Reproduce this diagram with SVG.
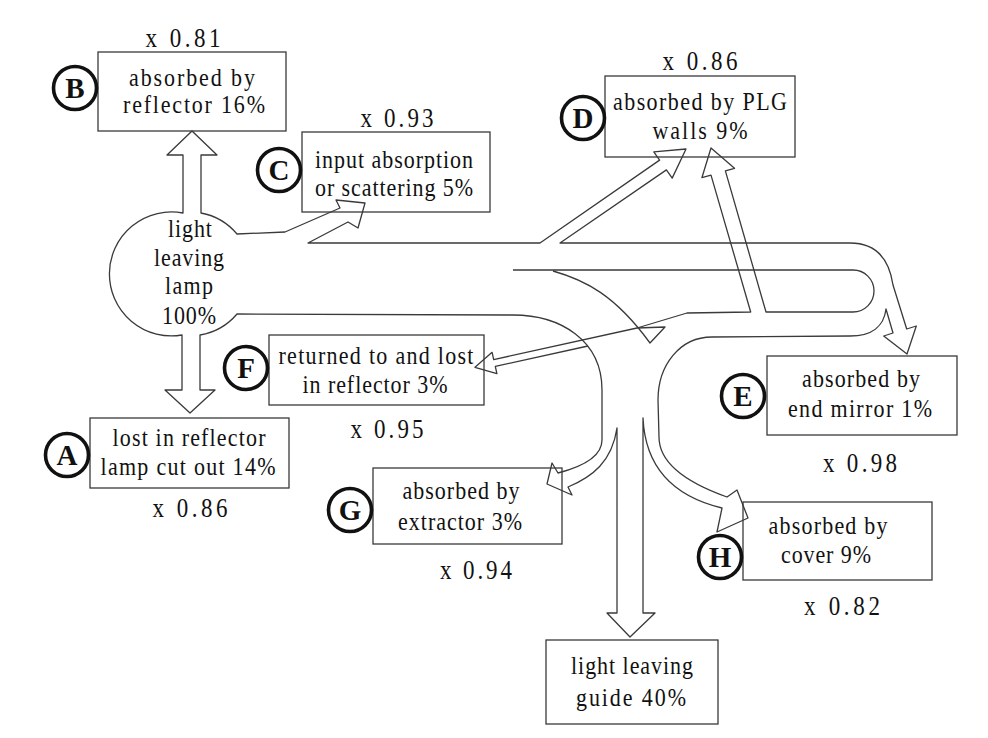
<svg xmlns="http://www.w3.org/2000/svg" width="988" height="738" viewBox="0 0 988 738">
<style>
.bx{fill:#fff;stroke:#3a3a3a;stroke-width:1.3}
.ln{fill:none;stroke:#3a3a3a;stroke-width:1.3;stroke-linejoin:round}
.cr{fill:#fff;stroke:#111;stroke-width:3.6}
.t{font-family:"Liberation Serif","Times New Roman",serif;font-size:22px;fill:#111;text-anchor:middle}
.m{font-family:"Liberation Serif","Times New Roman",serif;font-size:23px;fill:#111;text-anchor:middle}
.L{font-family:"Liberation Serif","Times New Roman",serif;font-size:29px;font-weight:bold;fill:#111;text-anchor:middle}
</style>
<rect width="988" height="738" fill="#fff"/>
<g id="node-B">
<rect class="bx" x="98" y="52" width="188" height="79"/>
<text class="t" transform="translate(192,86) scale(1,1.13)" textLength="126" lengthAdjust="spacing">absorbed by</text>
<text class="t" transform="translate(194,113) scale(1,1.13)" textLength="142" lengthAdjust="spacing">reflector 16%</text>
<text class="m" transform="translate(183,47) scale(1,1.22)" textLength="75" lengthAdjust="spacing">x 0.81</text>
<circle class="cr" cx="75" cy="88" r="21.5"/><text class="L" x="75" y="98">B</text>
</g>
<g id="node-C">
<rect class="bx" x="302" y="132" width="188" height="80"/>
<text class="t" transform="translate(394,168) scale(1,1.13)" textLength="158" lengthAdjust="spacing">input absorption</text>
<text class="t" transform="translate(394,196) scale(1,1.13)" textLength="158" lengthAdjust="spacing">or scattering 5%</text>
<text class="m" transform="translate(397,127) scale(1,1.22)" textLength="73" lengthAdjust="spacing">x 0.93</text>
<circle class="cr" cx="279" cy="170" r="21.5"/><text class="L" x="279" y="180">C</text>
</g>
<g id="node-D">
<rect class="bx" x="605" y="76" width="190" height="81"/>
<text class="t" transform="translate(700,110) scale(1,1.13)" textLength="174" lengthAdjust="spacing">absorbed by PLG</text>
<text class="t" transform="translate(700,139) scale(1,1.13)" textLength="95" lengthAdjust="spacing">walls  9%</text>
<text class="m" transform="translate(700,70) scale(1,1.22)" textLength="75" lengthAdjust="spacing">x 0.86</text>
<circle class="cr" cx="583" cy="118" r="21.5"/><text class="L" x="583" y="128">D</text>
</g>
<g id="node-A">
<rect class="bx" x="90" y="418" width="199" height="70"/>
<text class="t" transform="translate(189,446) scale(1,1.13)" textLength="153" lengthAdjust="spacing">lost in reflector</text>
<text class="t" transform="translate(188,475) scale(1,1.13)" textLength="175" lengthAdjust="spacing">lamp cut out 14%</text>
<text class="m" transform="translate(190,517) scale(1,1.22)" textLength="75" lengthAdjust="spacing">x 0.86</text>
<circle class="cr" cx="67" cy="455" r="21.5"/><text class="L" x="67" y="465">A</text>
</g>
<g id="node-F">
<rect class="bx" x="269" y="335" width="215" height="70"/>
<text class="t" transform="translate(376,364) scale(1,1.13)" textLength="195" lengthAdjust="spacing">returned to and lost</text>
<text class="t" transform="translate(375,393) scale(1,1.13)" textLength="145" lengthAdjust="spacing">in reflector 3%</text>
<text class="m" transform="translate(387,438) scale(1,1.22)" textLength="73" lengthAdjust="spacing">x 0.95</text>
<circle class="cr" cx="246" cy="368" r="21.5"/><text class="L" x="246" y="378">F</text>
</g>
<g id="node-G">
<rect class="bx" x="373" y="468" width="189" height="76"/>
<text class="t" transform="translate(461,499) scale(1,1.13)" textLength="117" lengthAdjust="spacing">absorbed by</text>
<text class="t" transform="translate(460,530) scale(1,1.13)" textLength="124" lengthAdjust="spacing">extractor 3%</text>
<text class="m" transform="translate(476,579) scale(1,1.22)" textLength="72" lengthAdjust="spacing">x 0.94</text>
<circle class="cr" cx="350" cy="510" r="21.5"/><text class="L" x="350" y="520">G</text>
</g>
<g id="node-E">
<rect class="bx" x="767" y="356" width="190" height="79"/>
<text class="t" transform="translate(861,387) scale(1,1.13)" textLength="118" lengthAdjust="spacing">absorbed by</text>
<text class="t" transform="translate(860,417) scale(1,1.13)" textLength="144" lengthAdjust="spacing">end mirror 1%</text>
<text class="m" transform="translate(860,472) scale(1,1.22)" textLength="74" lengthAdjust="spacing">x 0.98</text>
<circle class="cr" cx="743" cy="396" r="21.5"/><text class="L" x="743" y="406">E</text>
</g>
<g id="node-H">
<rect class="bx" x="743" y="502" width="189" height="78"/>
<text class="t" transform="translate(828,534) scale(1,1.13)" textLength="119" lengthAdjust="spacing">absorbed by</text>
<text class="t" transform="translate(826,563) scale(1,1.13)" textLength="90" lengthAdjust="spacing">cover 9%</text>
<text class="m" transform="translate(842,615) scale(1,1.22)" textLength="76" lengthAdjust="spacing">x 0.82</text>
<circle class="cr" cx="720" cy="557" r="21.5"/><text class="L" x="720" y="567">H</text>
</g>
<g id="node-out">
<rect class="bx" x="546" y="640" width="172" height="84"/>
<text class="t" transform="translate(632,674) scale(1,1.13)" textLength="122" lengthAdjust="spacing">light leaving</text>
<text class="t" transform="translate(631,706) scale(1,1.13)" textLength="110" lengthAdjust="spacing">guide  40%</text>
</g>
<g id="connectors">
<path class="ln" d="M340,208 L285,232 L237,234 A62,62 0 0 0 201,213 L201,155 L217,155 L192,131 L167,155 L183,155 L183,213 A62,62 0 1 0 182,335 L182,390 L165,390 L190,413 L215,390 L200,390 L200,335 A62,62 0 0 0 237,314 L513,315 C560,315 602,340 602,390 L602,440 C602,456 585,466 558,473 L552,463 L547,484 L572,495 L568,487 C592,477 612,462 617,428 L617,613 L607,613 L630,637 L655,613 L643,613 L643,418 C645,462 668,495 722,508 L717,532 L748,518 L737,490 L727,497 C685,482 659,462 659,437 L658,400 C658,365 680,337 712,337 L850,336 C872,336 884,326 886,309 L893,333 L883.7,336 L907,354 L916.3,326 L906.7,329 L893,285 C889,258 875,243 850,243 L560,243 L666.4,169.9 L672.2,178.1 L686,149 L653.8,151.9 L659.6,160.1 L540,243 L308,243 L348,222 L358,228 L365,203 L336,200 Z"/>
<path class="ln" d="M513,270 L853,270 A21,21 0 0 1 853,312 L766,312 L725.4,170.9 L734.5,168.3 L711,148 L701.9,177.7 L711,175.1 L750.7,312 L687,313 L637,328 L493.7,359.6 L492.1,352.3 L475,367.3 L496.9,373.7 L495.3,366.4 L588,346"/>
<path class="ln" d="M553,271 C585,280 615,295 650,343 L665,327 L637,328"/>
</g>
<g id="lamp-label">
<text class="t" transform="translate(190,237) scale(1,1.13)" textLength="44" lengthAdjust="spacing">light</text>
<text class="t" transform="translate(189,266) scale(1,1.13)" textLength="70" lengthAdjust="spacing">leaving</text>
<text class="t" transform="translate(189,294) scale(1,1.13)" textLength="48" lengthAdjust="spacing">lamp</text>
<text class="t" transform="translate(189,324) scale(1,1.13)" textLength="54" lengthAdjust="spacing">100%</text>
</g>
</svg>
